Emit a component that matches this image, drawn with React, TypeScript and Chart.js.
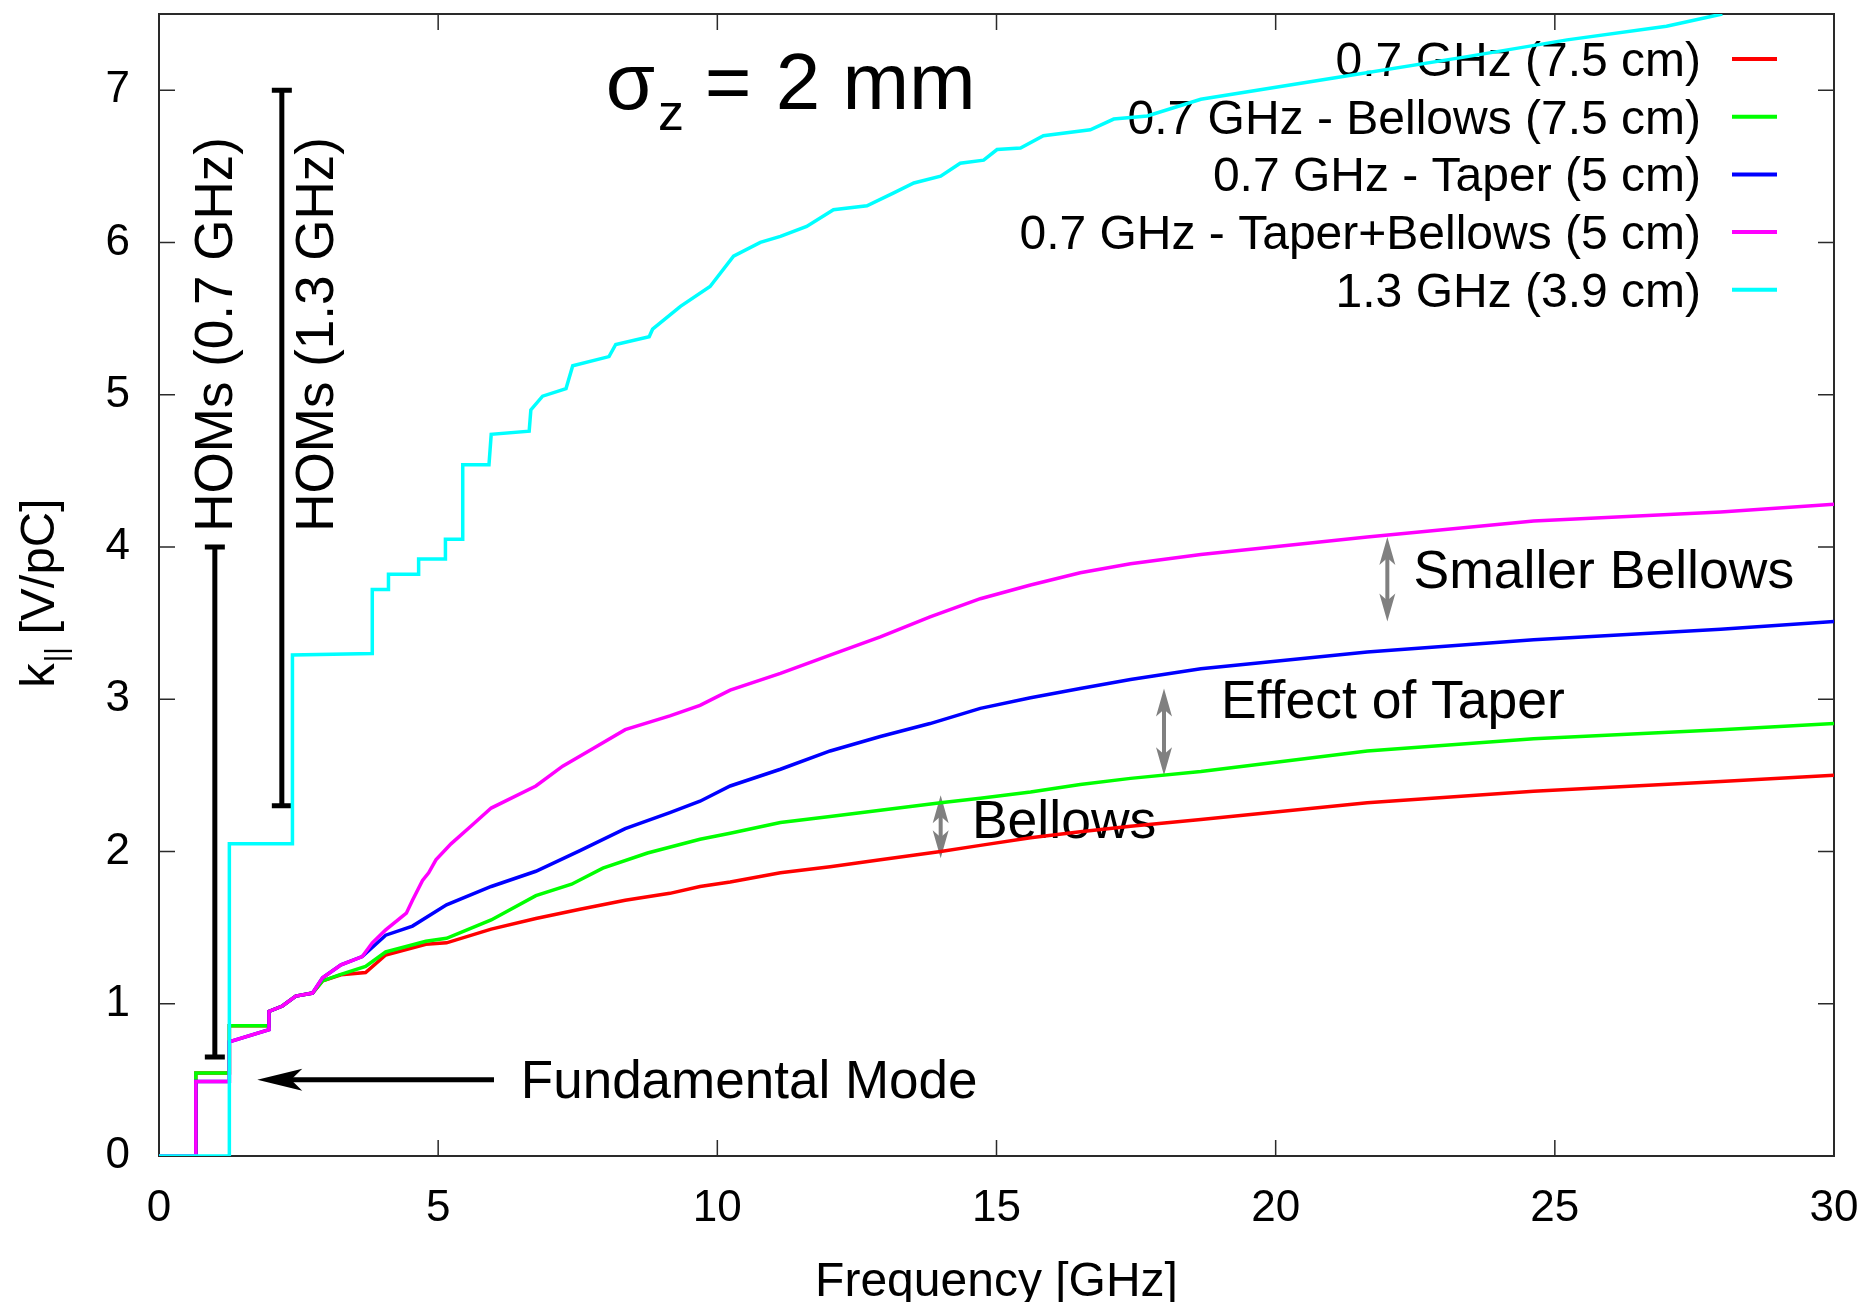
import React, { useEffect, useRef } from 'react';
import { Chart, registerables } from 'chart.js';

Chart.register(...registerables);

const FONT = "'Liberation Sans', Arial, Helvetica, sans-serif";

// Axis ticks
const xTicks = [0, 5, 10, 15, 20, 25, 30];
const yTicks = [0, 1, 2, 3, 4, 5, 6, 7];

// Series labels / colours
const seriesLabels = [
  '0.7 GHz (7.5 cm)',
  '0.7 GHz - Bellows (7.5 cm)',
  '0.7 GHz - Taper (5 cm)',
  '0.7 GHz - Taper+Bellows (5 cm)',
  '1.3 GHz (3.9 cm)',
];
const seriesColors = ['#ff0000', '#00ff00', '#0000ff', '#ff00ff', '#00ffff'];

// 0.7 GHz (7.5 cm)
const redFreq = [0, 0.66, 0.66, 1.26, 1.26, 1.97, 1.97, 2.21, 2.45, 2.75, 2.93, 3.26, 3.70, 4.06, 4.78, 5.15, 5.95, 6.75, 7.54, 8.35, 9.15, 9.69, 10.23, 11.13, 12.02, 12.92, 14.0, 14.71, 15.61, 16.5, 17.4, 18.66, 21.64, 24.62, 27.97, 30];
const redK = [0, 0, 0.545, 0.545, 0.855, 0.855, 0.95, 0.985, 1.05, 1.07, 1.15, 1.19, 1.205, 1.32, 1.39, 1.40, 1.49, 1.56, 1.62, 1.68, 1.725, 1.77, 1.80, 1.86, 1.90, 1.945, 2.00, 2.04, 2.09, 2.13, 2.165, 2.21, 2.32, 2.395, 2.46, 2.50];

// 0.7 GHz - Bellows (7.5 cm)
const greenFreq = [0, 0.66, 0.66, 1.26, 1.26, 1.97, 1.97, 2.21, 2.45, 2.75, 2.93, 3.23, 3.70, 4.06, 4.78, 5.15, 5.95, 6.75, 7.39, 7.95, 8.75, 9.69, 10.23, 11.13, 12.02, 12.92, 14.0, 14.71, 15.61, 16.5, 17.4, 18.66, 21.64, 24.62, 27.97, 30];
const greenK = [0, 0, 0.545, 0.545, 0.855, 0.855, 0.95, 0.985, 1.05, 1.07, 1.15, 1.19, 1.245, 1.34, 1.41, 1.43, 1.55, 1.71, 1.785, 1.89, 1.99, 2.08, 2.12, 2.19, 2.23, 2.27, 2.32, 2.35, 2.39, 2.44, 2.48, 2.525, 2.66, 2.74, 2.80, 2.84];

// 0.7 GHz - Taper (5 cm)
const blueFreq = [0, 0.66, 0.66, 1.26, 1.26, 1.97, 1.97, 2.21, 2.45, 2.75, 2.93, 3.26, 3.64, 4.06, 4.54, 5.15, 5.95, 6.75, 7.54, 8.35, 9.15, 9.69, 10.23, 11.13, 12.02, 12.92, 13.81, 14.71, 15.61, 16.5, 17.4, 18.66, 21.64, 24.62, 27.97, 30];
const blueK = [0, 0, 0.49, 0.49, 0.75, 0.83, 0.95, 0.985, 1.05, 1.07, 1.17, 1.255, 1.31, 1.45, 1.51, 1.65, 1.77, 1.87, 2.005, 2.15, 2.255, 2.33, 2.43, 2.54, 2.66, 2.755, 2.84, 2.94, 3.01, 3.07, 3.13, 3.20, 3.31, 3.39, 3.46, 3.51];

// 0.7 GHz - Taper+Bellows (5 cm)
const magentaFreq = [0, 0.66, 0.66, 1.26, 1.26, 1.97, 1.97, 2.21, 2.45, 2.75, 2.93, 3.26, 3.64, 3.82, 4.06, 4.43, 4.54, 4.72, 4.83, 4.96, 5.23, 5.63, 5.95, 6.75, 7.23, 7.79, 8.35, 9.15, 9.69, 10.23, 11.13, 12.02, 12.92, 13.81, 14.71, 15.61, 16.5, 17.4, 18.66, 21.64, 24.62, 27.97, 30];
const magentaK = [0, 0, 0.49, 0.49, 0.75, 0.83, 0.95, 0.985, 1.05, 1.07, 1.17, 1.255, 1.31, 1.40, 1.485, 1.595, 1.68, 1.81, 1.86, 1.945, 2.05, 2.18, 2.285, 2.43, 2.56, 2.68, 2.80, 2.89, 2.96, 3.06, 3.17, 3.29, 3.41, 3.54, 3.66, 3.75, 3.83, 3.89, 3.95, 4.065, 4.17, 4.23, 4.28];

// 1.3 GHz (3.9 cm)
const cyanFreq = [0, 1.26, 1.26, 2.39, 2.39, 3.82, 3.82, 4.11, 4.11, 4.65, 4.65, 5.13, 5.13, 5.44, 5.44, 5.91, 5.95, 6.63, 6.66, 6.87, 7.29, 7.41, 8.06, 8.18, 8.78, 8.84, 9.34, 9.87, 10.29, 10.77, 11.13, 11.6, 12.08, 12.68, 13.16, 13.52, 14.0, 14.35, 14.77, 15.01, 15.43, 15.84, 16.68, 17.1, 17.7, 18.66, 21.04, 23.43, 25.22, 27.0, 28.0];
const cyanK = [0, 0, 2.05, 2.05, 3.29, 3.30, 3.72, 3.72, 3.82, 3.82, 3.92, 3.92, 4.05, 4.05, 4.54, 4.54, 4.74, 4.76, 4.90, 4.99, 5.04, 5.19, 5.25, 5.33, 5.38, 5.43, 5.58, 5.71, 5.91, 6.0, 6.04, 6.105, 6.215, 6.24, 6.325, 6.39, 6.435, 6.52, 6.54, 6.61, 6.62, 6.70, 6.74, 6.81, 6.83, 6.94, 7.08, 7.22, 7.33, 7.42, 7.5];

const seriesFreq = [redFreq, greenFreq, blueFreq, magentaFreq, cyanFreq];
const seriesK = [redK, greenK, blueK, magentaK, cyanK];

// Annotations (data coordinates)
const homBars = [
  { f: 1.0, from: 0.65, to: 4.0, label: 'HOMs (0.7 GHz)', textF: 1.31, textK: 4.10 },
  { f: 2.2, from: 2.30, to: 7.0, label: 'HOMs (1.3 GHz)', textF: 3.11, textK: 4.10 },
];
const grayArrows = [
  { f: 14.0, top: 2.37, bottom: 1.955, label: 'Bellows', textF: 14.56, textK: 2.087 },
  { f: 18.0, top: 3.07, bottom: 2.50, label: 'Effect of Taper', textF: 19.02, textK: 2.876 },
  { f: 22.0, top: 4.065, bottom: 3.51, label: 'Smaller Bellows', textF: 22.47, textK: 3.73 },
];
const fundamental = { tailF: 6.0, tipF: 1.76, k: 0.5, label: 'Fundamental Mode', textF: 6.48, textK: 0.379 };

const font = (s: number) => `${s}px ${FONT}`;

const decorPlugin = {
  id: 'gnuplotDecor',
  beforeDatasetsDraw(chart: any) {
    const { ctx, chartArea: a, scales } = chart;
    const xs = scales.x;
    const ys = scales.y;
    const px = (v: number) => xs.getPixelForValue(v);
    const py = (v: number) => ys.getPixelForValue(v);
    ctx.save();

    // frame
    ctx.strokeStyle = '#2a2a2a';
    ctx.lineWidth = 2;
    ctx.strokeRect(a.left, a.top, a.right - a.left, a.bottom - a.top);

    // inward ticks, mirrored
    const TL = 16;
    ctx.lineWidth = 1.5;
    ctx.beginPath();
    xTicks.forEach((v) => {
      const X = px(v);
      ctx.moveTo(X, a.bottom); ctx.lineTo(X, a.bottom - TL);
      ctx.moveTo(X, a.top); ctx.lineTo(X, a.top + TL);
    });
    yTicks.forEach((v) => {
      const Y = py(v);
      ctx.moveTo(a.left, Y); ctx.lineTo(a.left + TL, Y);
      ctx.moveTo(a.right, Y); ctx.lineTo(a.right - TL, Y);
    });
    ctx.stroke();

    ctx.fillStyle = '#000';
    ctx.textBaseline = 'alphabetic';

    // x axis title
    ctx.font = font(48);
    ctx.textAlign = 'center';
    ctx.fillText('Frequency [GHz]', (a.left + a.right) / 2, a.bottom + 140);

    // y axis title with subscript (rotated)
    ctx.save();
    const YT = 49;
    const mainW1 = (() => { ctx.font = font(YT); return ctx.measureText('k').width; })();
    const subW = (() => { ctx.font = font(29); return ctx.measureText('||').width; })();
    const restW = (() => { ctx.font = font(YT); return ctx.measureText(' [V/pC]').width; })();
    const total = mainW1 + subW + restW;
    const cy = (a.top + a.bottom) / 2 + 8;
    ctx.translate(a.left - 105, cy + total / 2);
    ctx.rotate(-Math.PI / 2);
    ctx.textAlign = 'left';
    ctx.font = font(YT);
    ctx.fillText('k', 0, 0);
    ctx.font = font(29);
    ctx.fillText('||', mainW1 + 1, 12);
    ctx.font = font(YT);
    ctx.fillText(' [V/pC]', mainW1 + subW, 0);
    ctx.restore();

    // sigma_z title
    ctx.textAlign = 'left';
    const sx = px(8.0);
    const sy = py(6.873);
    ctx.font = font(80);
    ctx.fillText('σ', sx, sy);
    const sw = ctx.measureText('σ').width;
    ctx.font = font(52);
    ctx.fillText('z', sx + sw + 3, sy + 21);
    ctx.font = font(80);
    ctx.fillText('=', sx + 99, sy);
    ctx.fillText('2 mm', sx + 170, sy);

    // legend
    ctx.font = font(48);
    ctx.textAlign = 'right';
    chart.data.datasets.forEach((ds: any, i: number) => {
      const yy = a.top + 45 + i * 57.7;
      ctx.fillStyle = '#000';
      ctx.fillText(ds.label, a.right - 133, yy + 17);
      ctx.strokeStyle = ds.borderColor;
      ctx.lineWidth = 4;
      ctx.beginPath();
      ctx.moveTo(a.right - 102, yy);
      ctx.lineTo(a.right - 57, yy);
      ctx.stroke();
    });

    // HOM bars
    ctx.strokeStyle = '#000';
    ctx.fillStyle = '#000';
    ctx.lineWidth = 5;
    homBars.forEach((b) => {
      const X = px(b.f);
      const Y1 = py(b.from);
      const Y2 = py(b.to);
      ctx.beginPath();
      ctx.moveTo(X, Y1); ctx.lineTo(X, Y2);
      ctx.moveTo(X - 10, Y1); ctx.lineTo(X + 10, Y1);
      ctx.moveTo(X - 10, Y2); ctx.lineTo(X + 10, Y2);
      ctx.stroke();
      ctx.save();
      ctx.translate(px(b.textF), py(b.textK));
      ctx.rotate(-Math.PI / 2);
      ctx.font = font(53);
      ctx.textAlign = 'left';
      ctx.fillText(b.label, 0, 0);
      ctx.restore();
    });

    // Fundamental mode arrow
    {
      const Y = py(fundamental.k);
      const Xt = px(fundamental.tipF);
      const Xe = px(fundamental.tailF);
      const hl = 45, hw = 11;
      ctx.lineWidth = 5;
      ctx.beginPath();
      ctx.moveTo(Xe, Y); ctx.lineTo(Xt + hl * 0.7, Y);
      ctx.stroke();
      ctx.beginPath();
      ctx.moveTo(Xt, Y);
      ctx.lineTo(Xt + hl, Y - hw);
      ctx.lineTo(Xt + hl * 0.75, Y);
      ctx.lineTo(Xt + hl, Y + hw);
      ctx.closePath();
      ctx.fill();
      ctx.font = font(53);
      ctx.textAlign = 'left';
      ctx.fillText(fundamental.label, px(fundamental.textF), py(fundamental.textK));
    }

    // gray double arrows
    grayArrows.forEach((g) => {
      const X = px(g.f);
      const Yt = py(g.top);
      const Yb = py(g.bottom);
      const hl = 28, hw = 8;
      ctx.strokeStyle = '#808080';
      ctx.fillStyle = '#808080';
      ctx.lineWidth = 4;
      ctx.beginPath();
      ctx.moveTo(X, Yt + hl * 0.6); ctx.lineTo(X, Yb - hl * 0.6);
      ctx.stroke();
      ctx.beginPath();
      ctx.moveTo(X, Yt);
      ctx.lineTo(X + hw, Yt + hl);
      ctx.lineTo(X, Yt + hl * 0.75);
      ctx.lineTo(X - hw, Yt + hl);
      ctx.closePath();
      ctx.fill();
      ctx.beginPath();
      ctx.moveTo(X, Yb);
      ctx.lineTo(X + hw, Yb - hl);
      ctx.lineTo(X, Yb - hl * 0.75);
      ctx.lineTo(X - hw, Yb - hl);
      ctx.closePath();
      ctx.fill();
      ctx.fillStyle = '#000';
      ctx.font = font(53.5);
      ctx.textAlign = 'left';
      ctx.fillText(g.label, px(g.textF), py(g.textK));
    });

    ctx.restore();
  },
};

export default function App() {
  const ref = useRef<HTMLCanvasElement | null>(null);

  useEffect(() => {
    document.body.style.margin = '0';
    const canvas = ref.current;
    if (!canvas) return;
    const n = seriesLabels.length;
    const datasets = seriesLabels.map((label, i) => ({
      label,
      data: seriesFreq[i].map((f, j) => ({ x: f, y: seriesK[i][j] })),
      borderColor: seriesColors[i],
      backgroundColor: seriesColors[i],
      borderWidth: 3.5,
      pointRadius: 0,
      tension: 0,
      fill: false,
      order: n - i,
    }));
    const chart = new Chart(canvas, {
      type: 'line',
      data: { datasets },
      options: {
        animation: false,
        responsive: false,
        devicePixelRatio: 1,
        layout: { padding: { left: 0, right: 39, top: 14, bottom: 0 } },
        plugins: { legend: { display: false }, tooltip: { enabled: false }, title: { display: false } },
        scales: {
          x: {
            type: 'linear',
            min: 0,
            max: 30,
            grid: { display: false, drawTicks: false },
            border: { display: false },
            ticks: { color: '#000', font: { family: FONT, size: 44 }, padding: 26, maxRotation: 0 },
            afterBuildTicks: (s: any) => { s.ticks = xTicks.map((v) => ({ value: v })); },
            afterFit: (s: any) => { s.height = 146; s.paddingLeft = 0; s.paddingRight = 0; },
          },
          y: {
            type: 'linear',
            min: 0,
            max: 7.5,
            grid: { display: false, drawTicks: false },
            border: { display: false },
            ticks: { color: '#000', font: { family: FONT, size: 44 }, padding: 29 },
            afterBuildTicks: (s: any) => { s.ticks = yTicks.map((v) => ({ value: v })); },
            afterFit: (s: any) => { s.width = 159; s.paddingTop = 0; s.paddingBottom = 0; },
          },
        },
      },
      plugins: [decorPlugin],
    } as any);
    return () => chart.destroy();
  }, []);

  return (
    <div style={{ width: 1873, height: 1302, background: '#fff' }}>
      <canvas ref={ref} width={1873} height={1302} style={{ display: 'block', width: 1873, height: 1302 }} />
    </div>
  );
}
